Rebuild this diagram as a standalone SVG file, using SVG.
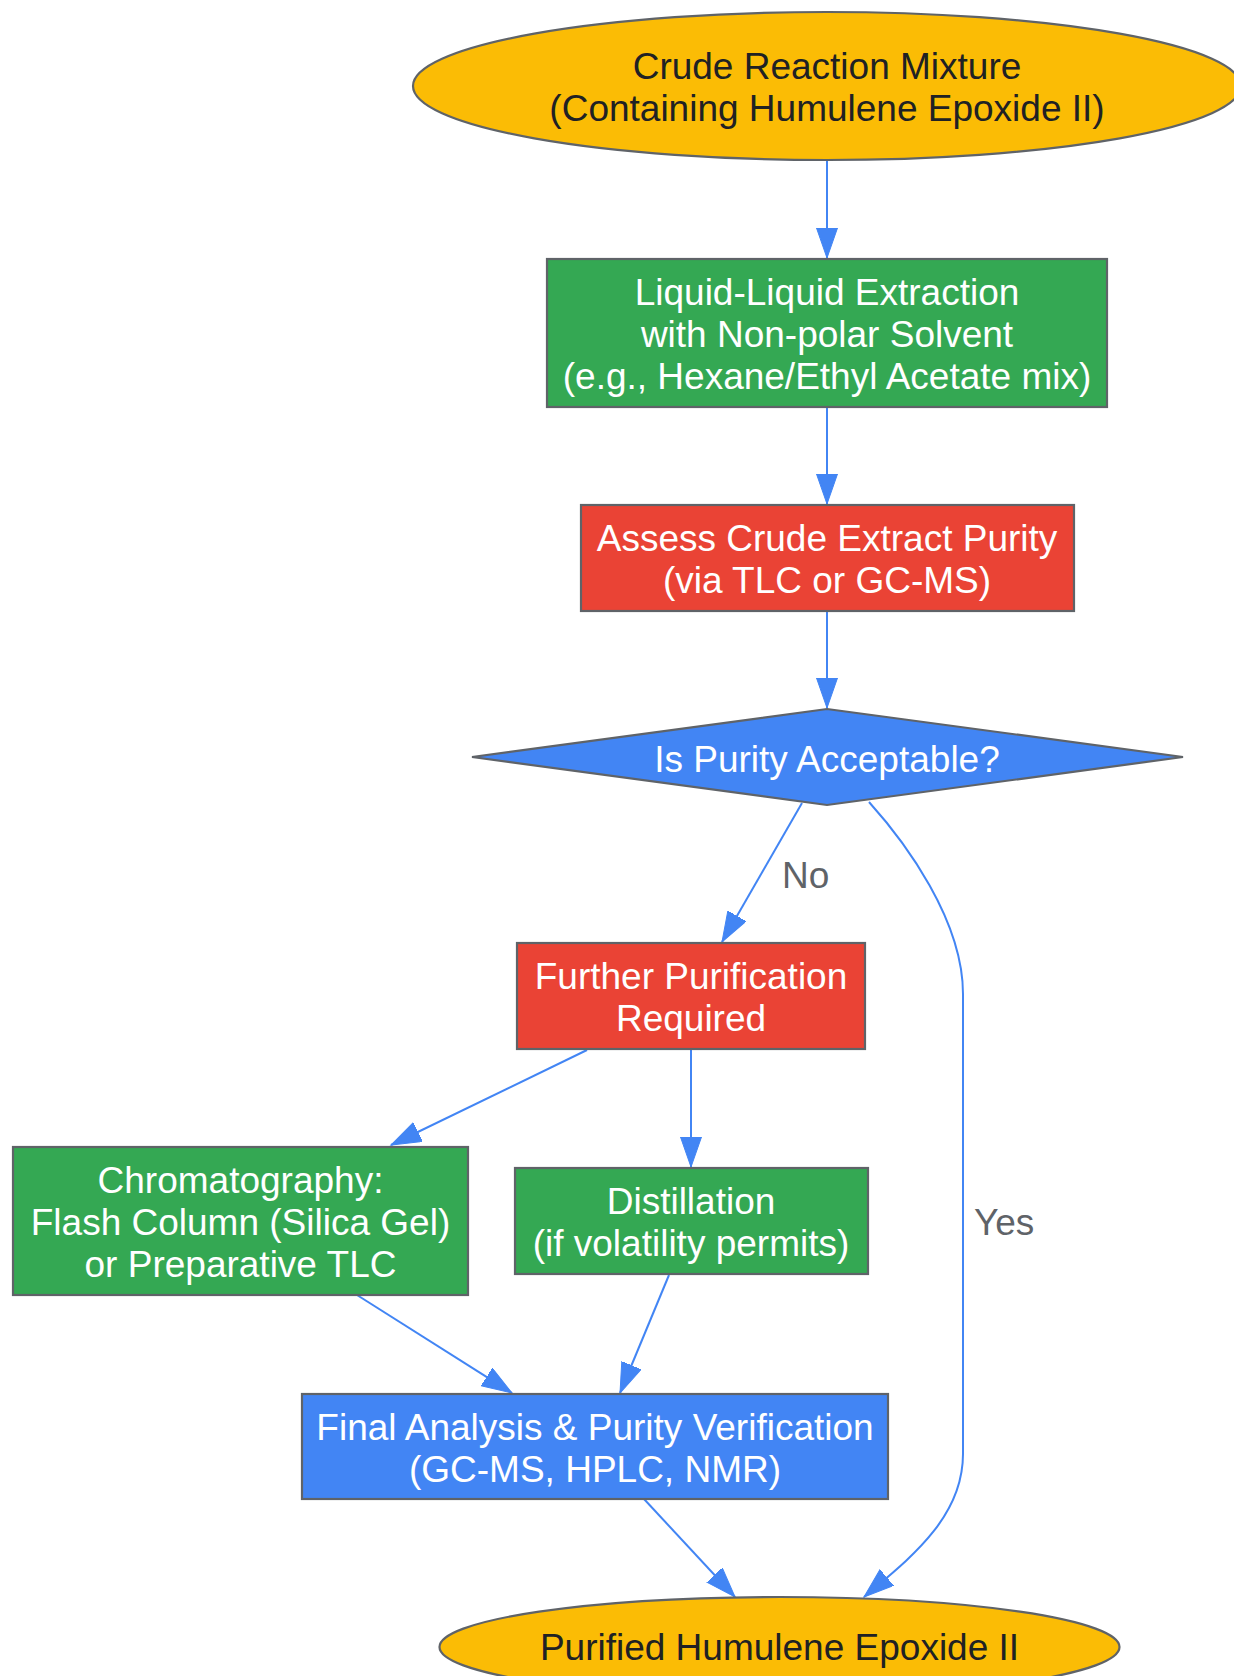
<svg xmlns="http://www.w3.org/2000/svg" width="1234" height="1676" viewBox="0 0 1234 1676">
<defs>
<style>
.node-stroke{stroke:#5f6368;stroke-width:2.2}
.yellow{fill:#fbbc05}
.green{fill:#34a853}
.red{fill:#ea4335}
.blue{fill:#4285f4}
text{font-family:"Liberation Sans",Arial,sans-serif;font-size:37px;text-anchor:middle}
.dark{fill:#202124}
.light{fill:#ffffff}
.elabel{fill:#5f6368;text-anchor:start}
.edge{fill:none;stroke:#4285f4;stroke-width:2;marker-end:url(#arrow)}
</style>
<marker id="arrow" markerUnits="userSpaceOnUse" markerWidth="32" markerHeight="22" refX="30" refY="10.5" orient="auto" viewBox="0 0 32 22">
<path d="M0,0 L30,10.5 L0,21 z" fill="#4285f4" stroke="#4285f4" stroke-width="1"/>
</marker>
</defs>
<rect width="1234" height="1676" fill="#ffffff"/>

<g id="connectors">
<path class="edge" d="M827,160 L827,258"/>
<path class="edge" d="M827,407 L827,504"/>
<path class="edge" d="M827,611 L827,708"/>
<path class="edge" d="M802,803 L722,942"/>
<path class="edge" d="M869,802 C905,842 963,920 963,994 L963,1454 C963,1520 905,1562 864,1597"/>
<path class="edge" d="M587,1050 L391,1145"/>
<path class="edge" d="M691,1049 L691,1167"/>
<path class="edge" d="M357,1295 L512,1393"/>
<path class="edge" d="M669,1275 L620,1393"/>
<path class="edge" d="M644,1499 L735,1597"/>
<text class="elabel" x="782" y="888">No</text>
<text class="elabel" x="974" y="1235">Yes</text>
</g>

<g id="crude">
<ellipse class="yellow node-stroke" cx="827" cy="86" rx="414" ry="74"/>
<text class="dark" x="827" y="79">Crude Reaction Mixture</text>
<text class="dark" x="827" y="121">(Containing Humulene Epoxide II)</text>
</g>

<g id="extraction">
<rect class="green node-stroke" x="547" y="259" width="560" height="148"/>
<text class="light" x="827" y="305">Liquid-Liquid Extraction</text>
<text class="light" x="827" y="347">with Non-polar Solvent</text>
<text class="light" x="827" y="389">(e.g., Hexane/Ethyl Acetate mix)</text>
</g>

<g id="assess">
<rect class="red node-stroke" x="581" y="505" width="493" height="106"/>
<text class="light" x="827" y="551">Assess Crude Extract Purity</text>
<text class="light" x="827" y="593">(via TLC or GC-MS)</text>
</g>

<g id="decision">
<polygon class="blue node-stroke" points="827,709 1183,757 827,805 472,757"/>
<text class="light" x="827" y="772">Is Purity Acceptable?</text>
</g>

<g id="further">
<rect class="red node-stroke" x="517" y="943" width="348" height="106"/>
<text class="light" x="691" y="989">Further Purification</text>
<text class="light" x="691" y="1031">Required</text>
</g>

<g id="chromatography">
<rect class="green node-stroke" x="13" y="1147" width="455" height="148"/>
<text class="light" x="240.5" y="1193">Chromatography:</text>
<text class="light" x="240.5" y="1235">Flash Column (Silica Gel)</text>
<text class="light" x="240.5" y="1277">or Preparative TLC</text>
</g>

<g id="distillation">
<rect class="green node-stroke" x="515" y="1168" width="353" height="106"/>
<text class="light" x="691" y="1214">Distillation</text>
<text class="light" x="691" y="1256">(if volatility permits)</text>
</g>

<g id="final">
<rect class="blue node-stroke" x="302" y="1394" width="586" height="105"/>
<text class="light" x="595" y="1440">Final Analysis &amp; Purity Verification</text>
<text class="light" x="595" y="1482">(GC-MS, HPLC, NMR)</text>
</g>

<g id="purified">
<ellipse class="yellow node-stroke" cx="779.5" cy="1647" rx="340" ry="50"/>
<text class="dark" x="779.5" y="1660">Purified Humulene Epoxide II</text>
</g>
</svg>
